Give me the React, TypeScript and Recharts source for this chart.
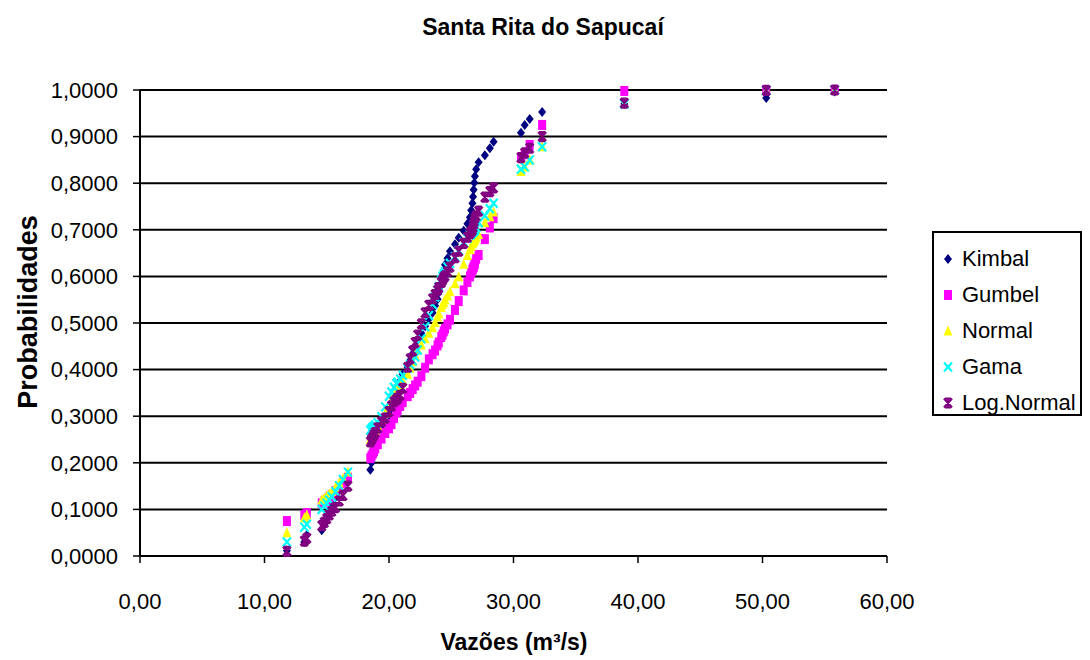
import { ScatterChart, Scatter, XAxis, YAxis, CartesianGrid } from 'recharts';

// Vazões ordenadas (m³/s), comuns a todas as séries
const flows = [
  11.8, 13.2, 13.4, 14.6, 14.8, 15.0, 15.2, 15.4, 15.7, 16.0, 16.3, 16.7,
  18.5, 18.6, 18.7, 18.8, 18.9, 19.1, 19.4, 19.7,
  20.0, 20.2, 20.4, 20.6, 20.7, 20.9, 21.1, 21.5, 21.7, 21.9,
  22.1, 22.3, 22.6, 22.9, 23.2, 23.5, 23.7, 23.9,
  24.0, 24.2, 24.3, 24.4, 24.5, 24.7, 24.9, 25.3, 25.6,
  26.0, 26.3, 26.5, 26.6, 26.7, 26.75, 26.8, 26.85, 26.9,
  27.0, 27.2, 27.7, 28.1, 28.4, 30.6, 30.9, 31.3, 32.3, 38.9, 50.3, 55.8,
];

const kimbal = [
  0.012, 0.030, 0.045, 0.055, 0.068, 0.082, 0.097, 0.112, 0.126, 0.141, 0.156, 0.170,
  0.185, 0.200, 0.214, 0.229, 0.244, 0.258, 0.273, 0.288,
  0.302, 0.317, 0.332, 0.346, 0.361, 0.376, 0.390, 0.405, 0.420, 0.434,
  0.449, 0.464, 0.478, 0.493, 0.508, 0.522, 0.537, 0.551,
  0.566, 0.581, 0.595, 0.610, 0.625, 0.639, 0.654, 0.669, 0.683,
  0.698, 0.713, 0.727, 0.742, 0.757, 0.771, 0.786, 0.801, 0.815,
  0.830, 0.845, 0.860, 0.875, 0.889, 0.908, 0.925, 0.938, 0.953, 0.970, 0.983, 0.997,
];

const gumbel = [
  0.075, 0.088, 0.092, 0.113, 0.117, 0.121, 0.126, 0.131, 0.139, 0.148, 0.157, 0.168,
  0.210, 0.215, 0.220, 0.225, 0.231, 0.240, 0.252, 0.264,
  0.274, 0.283, 0.296, 0.308, 0.314, 0.322, 0.330, 0.343, 0.350, 0.358,
  0.366, 0.374, 0.386, 0.404, 0.422, 0.433, 0.441, 0.452,
  0.458, 0.470, 0.475, 0.482, 0.488, 0.497, 0.507, 0.528, 0.547,
  0.570, 0.588, 0.600, 0.607, 0.614, 0.617, 0.620, 0.624, 0.628,
  0.638, 0.646, 0.680, 0.705, 0.725, 0.855, 0.862, 0.882, 0.925, 0.998, 1.0, 1.0,
];

const normal = [
  0.050, 0.082, 0.088, 0.120, 0.124, 0.129, 0.133, 0.138, 0.147, 0.157, 0.167, 0.180,
  0.250, 0.255, 0.260, 0.264, 0.269, 0.279, 0.293, 0.307,
  0.323, 0.334, 0.345, 0.354, 0.358, 0.367, 0.375, 0.390, 0.403, 0.417,
  0.431, 0.442, 0.453, 0.466, 0.478, 0.490, 0.501, 0.513,
  0.520, 0.533, 0.539, 0.544, 0.550, 0.558, 0.567, 0.584, 0.599,
  0.626, 0.645, 0.657, 0.664, 0.670, 0.673, 0.675, 0.677, 0.679,
  0.683, 0.690, 0.715, 0.728, 0.738, 0.825, 0.835, 0.850, 0.878, 0.970, 0.999, 1.0,
];

const gama = [
  0.030, 0.062, 0.068, 0.100, 0.107, 0.113, 0.120, 0.127, 0.138, 0.151, 0.164, 0.180,
  0.270, 0.273, 0.276, 0.278, 0.281, 0.286, 0.299, 0.320,
  0.343, 0.352, 0.362, 0.370, 0.373, 0.380, 0.388, 0.403, 0.411, 0.419,
  0.427, 0.442, 0.466, 0.492, 0.516, 0.540, 0.556, 0.570,
  0.578, 0.593, 0.600, 0.605, 0.610, 0.620, 0.628, 0.642, 0.655,
  0.673, 0.682, 0.688, 0.691, 0.694, 0.695, 0.697, 0.698, 0.700,
  0.705, 0.715, 0.730, 0.745, 0.757, 0.830, 0.835, 0.850, 0.878, 0.970, 0.999, 1.0,
];

const logNormal = [
  0.010, 0.032, 0.038, 0.065, 0.072, 0.080, 0.088, 0.096, 0.104, 0.118, 0.130, 0.150,
  0.245, 0.250, 0.255, 0.260, 0.265, 0.275, 0.288, 0.296,
  0.310, 0.322, 0.331, 0.336, 0.339, 0.345, 0.360, 0.405, 0.423, 0.440,
  0.458, 0.474, 0.498, 0.522, 0.538, 0.552, 0.561, 0.570,
  0.576, 0.587, 0.592, 0.597, 0.601, 0.610, 0.620, 0.640, 0.654,
  0.671, 0.684, 0.692, 0.696, 0.700, 0.705, 0.712, 0.718, 0.725,
  0.730, 0.740, 0.770, 0.782, 0.790, 0.855, 0.865, 0.875, 0.900, 0.972, 0.999, 1.0,
];

const xTicks = [0, 10, 20, 30, 40, 50, 60];
const yTicks = [0, 0.1, 0.2, 0.3, 0.4, 0.5, 0.6, 0.7, 0.8, 0.9, 1.0];

const toPoints = (ys: number[]) => flows.map((x, i) => ({ x, y: ys[i] }));

const FONT = '"Liberation Sans", Arial, sans-serif';

// marcadores no estilo do Excel
const Diamond = ({ cx, cy }: any) => (
  <path d={`M${cx},${cy - 5}L${cx + 4},${cy}L${cx},${cy + 5}L${cx - 4},${cy}Z`} fill="#000080" />
);
const Square = ({ cx, cy }: any) => (
  <rect x={cx - 4} y={cy - 5} width={8} height={10} fill="#FF00FF" />
);
const Triangle = ({ cx, cy }: any) => (
  <path d={`M${cx},${cy - 5.5}L${cx + 4.5},${cy + 4.5}L${cx - 4.5},${cy + 4.5}Z`} fill="#FFFF00" />
);
const Cross = ({ cx, cy }: any) => (
  <path d={`M${cx - 4},${cy - 4.5}L${cx + 4},${cy + 4.5}M${cx + 4},${cy - 4.5}L${cx - 4},${cy + 4.5}`} stroke="#00FFFF" strokeWidth={2.2} fill="none" />
);
const Star = ({ cx, cy }: any) => (
  <path d={`M${cx - 4},${cy - 4.5}L${cx + 4},${cy + 4.5}M${cx + 4},${cy - 4.5}L${cx - 4},${cy + 4.5}M${cx - 3},${cy - 4.5}L${cx + 3},${cy - 4.5}M${cx - 3},${cy + 4.5}L${cx + 3},${cy + 4.5}M${cx},${cy - 4.5}L${cx},${cy + 4.5}`} stroke="#800080" strokeWidth={2.2} fill="none" />
);

const series = [
  { name: 'Kimbal', data: kimbal, shape: Diamond },
  { name: 'Gumbel', data: gumbel, shape: Square },
  { name: 'Normal', data: normal, shape: Triangle },
  { name: 'Gama', data: gama, shape: Cross },
  { name: 'Log.Normal', data: logNormal, shape: Star },
];

export default function App() {
  return (
    <div style={{ position: 'absolute', left: 0, top: 0, width: 1090, height: 660, background: '#fff', fontFamily: FONT }}>
      <ScatterChart width={1090} height={660} margin={{ top: 90, right: 203, left: 60, bottom: 64 }}>
        <CartesianGrid horizontal vertical={false} stroke="#000" strokeWidth={2} />
        <XAxis
          type="number"
          dataKey="x"
          domain={[0, 60]}
          ticks={xTicks}
          height={40}
          tickFormatter={(v: number) => v.toFixed(2).replace('.', ',')}
          tick={{ fill: '#000', fontSize: 22, fontFamily: FONT }}
          tickSize={7}
          tickMargin={30}
          axisLine={{ stroke: '#000', strokeWidth: 2 }}
          tickLine={{ stroke: '#000', strokeWidth: 1.5 }}
        />
        <YAxis
          type="number"
          dataKey="y"
          domain={[0, 1]}
          ticks={yTicks}
          width={80}
          tickFormatter={(v: number) => v.toFixed(4).replace('.', ',')}
          tick={{ fill: '#000', fontSize: 22, fontFamily: FONT }}
          tickSize={7}
          tickMargin={15}
          axisLine={{ stroke: '#000', strokeWidth: 2 }}
          tickLine={{ stroke: '#000', strokeWidth: 1.5 }}
        />
        {series.map((s) => (
          <Scatter key={s.name} name={s.name} data={toPoints(s.data)} shape={s.shape} isAnimationActive={false} />
        ))}
      </ScatterChart>

      <div style={{ position: 'absolute', left: 543, top: 14, transform: 'translateX(-50%)', fontWeight: 'bold', fontSize: 23, whiteSpace: 'nowrap' }}>
        Santa Rita do Sapucaí
      </div>
      <div style={{ position: 'absolute', left: 514, top: 629, transform: 'translateX(-50%)', fontWeight: 'bold', fontSize: 23, whiteSpace: 'nowrap' }}>
        Vazões (m³/s)
      </div>
      <div style={{ position: 'absolute', left: 28, top: 312, transform: 'translate(-50%, -50%) rotate(-90deg)', fontWeight: 'bold', fontSize: 27, whiteSpace: 'nowrap' }}>
        Probabilidades
      </div>

      <div style={{ position: 'absolute', left: 932, top: 231, width: 146, height: 181, border: '2px solid #000', boxSizing: 'content-box' }}>
        {series.map((s, i) => {
          const Shape = s.shape;
          return (
            <div key={s.name} style={{ position: 'absolute', left: 0, top: 11 + i * 36, height: 30, display: 'flex', alignItems: 'center', whiteSpace: 'nowrap' }}>
              <svg width={30} height={30} style={{ display: 'block' }}>
                <Shape cx={14} cy={15} />
              </svg>
              <span style={{ fontSize: 22, marginLeft: -2 }}>{s.name}</span>
            </div>
          );
        })}
      </div>
    </div>
  );
}
